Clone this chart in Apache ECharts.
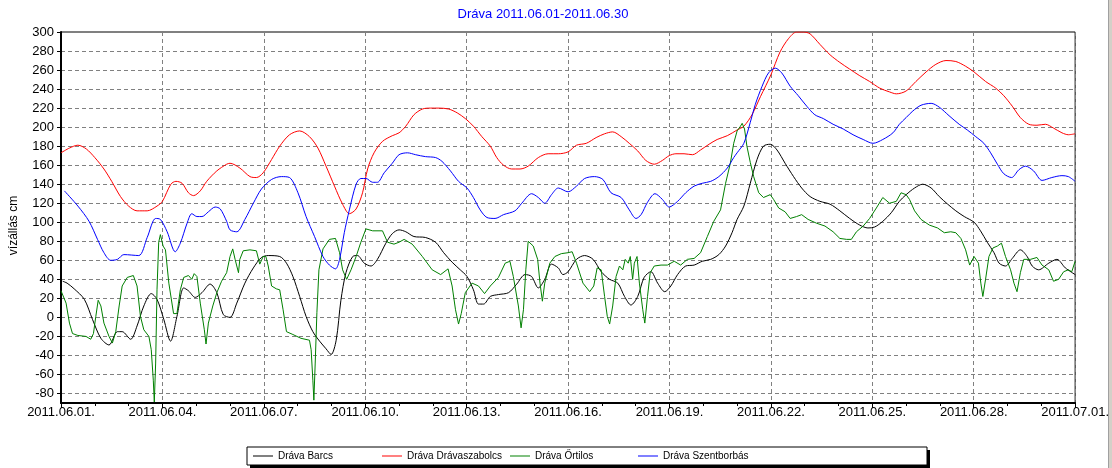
<!DOCTYPE html>
<html>
<head>
<meta charset="utf-8">
<script src="https://cdn.jsdelivr.net/npm/echarts@6/dist/echarts.min.js"></script>
<style>
  html, body { margin: 0; padding: 0; background: #fff; }
  #chart { width: 1112px; height: 468px; }
</style>
</head>
<body>
<div id="chart"></div>
<script>
// tick labels (x: one label every 3 days, day 0 = 2011.06.01.)
const xTickLabels = ['2011.06.01.', '2011.06.04.', '2011.06.07.', '2011.06.10.', '2011.06.13.', '2011.06.16.',
  '2011.06.19.', '2011.06.22.', '2011.06.25.', '2011.06.28.', '2011.07.01.'];
const yTicks = [-80, -60, -40, -20, 0, 20, 40, 60, 80, 100, 120, 140, 160, 180, 200, 220, 240, 260, 280, 300];

// water levels, [day since 06.01, cm]
const barcs = [[0.05,38],[0.18,36],[0.39,30],[0.69,19],[0.93,-2],[1.18,-22],[1.42,-29],[1.67,-15],[1.81,-15],[2.06,-23],[2.25,-9],[2.45,12],[2.67,25],[2.84,19],[3.04,-2],[3.24,-25],[3.43,1],[3.63,31],[3.77,28],[3.97,21],[4.17,26],[4.41,35],[4.61,26],[4.8,3],[5,0],[5.2,15],[5.44,36],[5.69,52],[5.93,63],[6.13,65],[6.47,64],[6.67,57],[6.86,43],[7.06,22],[7.25,1],[7.45,-15],[7.65,-25],[7.84,-33],[7.99,-39],[8.14,-24],[8.28,18],[8.43,47],[8.63,64],[8.77,65],[8.97,57],[9.17,54],[9.36,61],[9.61,78],[9.8,88],[10,92],[10.2,90],[10.44,85],[10.78,84],[11.08,79],[11.32,68],[11.57,58],[11.81,50],[12.01,43],[12.2,29],[12.35,14],[12.5,14],[12.7,22],[12.94,24],[13.24,26],[13.48,35],[13.73,45],[13.92,43],[14.12,31],[14.31,40],[14.51,56],[14.71,52],[14.85,45],[15,48],[15.25,61],[15.49,65],[15.74,61],[15.98,48],[16.23,40],[16.47,36],[16.67,22],[16.86,13],[17.06,22],[17.25,42],[17.45,48],[17.65,36],[17.86,27],[18.04,33],[18.24,45],[18.48,54],[18.73,55],[18.97,59],[19.22,61],[19.46,66],[19.66,75],[19.85,89],[20,103],[20.2,117],[20.39,141],[20.59,166],[20.78,180],[20.98,182],[21.18,176],[21.42,162],[21.67,148],[21.91,136],[22.16,127],[22.45,122],[22.75,119],[23.04,112],[23.33,104],[23.63,97],[23.87,94],[24.07,95],[24.31,101],[24.56,110],[24.8,122],[25,129],[25.25,136],[25.49,140],[25.74,136],[25.98,127],[26.23,119],[26.47,112],[26.72,106],[27.01,100],[27.2,91],[27.4,79],[27.6,68],[27.75,57],[27.94,54],[28.14,62],[28.38,71],[28.58,64],[28.73,54],[28.92,50],[29.22,57],[29.46,61],[29.71,52],[30,45]];

const dravaszabolcs = [[0,173],[0.25,178],[0.5,181],[0.75,177],[1,168],[1.27,156],[1.5,143],[1.76,127],[2,117],[2.25,112],[2.55,112],[2.84,117],[3,122],[3.25,140],[3.4,143],[3.58,141],[3.77,131],[3.92,128],[4.12,133],[4.31,143],[4.61,154],[4.9,161],[5,162],[5.29,157],[5.59,148],[5.78,147],[5.98,152],[6.23,166],[6.47,180],[6.76,192],[7.06,196],[7.35,190],[7.6,178],[7.84,159],[8.09,138],[8.33,119],[8.53,109],[8.73,114],[8.92,131],[9.07,156],[9.26,173],[9.51,185],[9.8,191],[10,194],[10.2,201],[10.44,213],[10.69,219],[10.93,220],[11.18,220],[11.47,219],[11.72,215],[11.96,209],[12.2,201],[12.45,190],[12.7,180],[12.89,168],[13.09,160],[13.33,156],[13.58,156],[13.82,159],[14.12,168],[14.41,172],[14.71,172],[15,174],[15.25,181],[15.54,183],[15.83,189],[16.08,193],[16.32,195],[16.57,190],[16.81,183],[17.06,175],[17.3,165],[17.55,161],[17.79,165],[17.99,170],[18.19,172],[18.43,172],[18.68,171],[18.92,176],[19.17,182],[19.41,187],[19.71,191],[20,197],[20.2,201],[20.44,213],[20.69,232],[21,255],[21.27,279],[21.52,293],[21.76,300],[21.96,300],[22.16,298],[22.45,287],[22.75,276],[23.04,268],[23.33,261],[23.63,254],[23.92,248],[24.22,241],[24.51,237],[24.71,235],[25,238],[25.29,248],[25.59,258],[25.88,266],[26.18,270],[26.47,269],[26.76,264],[27.01,258],[27.35,248],[27.65,241],[27.89,233],[28.14,222],[28.38,210],[28.63,203],[28.87,202],[29.12,203],[29.36,199],[29.61,194],[29.8,192],[30,193]];

const ortilos = [[0,28],[0.15,15],[0.25,-6],[0.34,-17],[0.5,-19],[0.74,-20],[0.88,-23],[0.96,-17],[1.03,1],[1.1,18],[1.18,12],[1.27,-6],[1.42,-20],[1.52,-27],[1.62,-15],[1.72,12],[1.81,33],[1.96,42],[2.14,44],[2.25,33],[2.35,1],[2.45,-13],[2.6,-20],[2.67,-34],[2.73,-66],[2.76,-89],[2.8,-48],[2.84,29],[2.89,79],[2.94,87],[3.02,75],[3.09,71],[3.19,36],[3.33,4],[3.43,4],[3.53,29],[3.63,42],[3.77,44],[3.87,40],[3.94,46],[4.02,43],[4.12,15],[4.24,-13],[4.29,-28],[4.36,-6],[4.49,12],[4.61,26],[4.75,38],[4.9,47],[5,64],[5.08,72],[5.15,61],[5.25,47],[5.29,61],[5.39,70],[5.59,71],[5.78,70],[5.88,56],[5.98,64],[6.06,64],[6.13,54],[6.23,33],[6.37,30],[6.47,29],[6.57,8],[6.67,-15],[6.86,-18],[7.1,-22],[7.35,-24],[7.4,-34],[7.45,-66],[7.48,-87],[7.52,-48],[7.57,5],[7.63,50],[7.75,72],[7.94,82],[8.12,83],[8.24,68],[8.33,50],[8.45,40],[8.58,50],[8.73,64],[8.87,79],[9.02,93],[9.22,91],[9.51,91],[9.66,79],[9.85,77],[10,79],[10.15,82],[10.39,77],[10.69,64],[10.98,50],[11.23,45],[11.45,51],[11.57,33],[11.67,8],[11.76,-7],[11.84,4],[11.96,26],[12.16,36],[12.35,33],[12.53,25],[12.7,33],[12.94,42],[13.14,57],[13.28,59],[13.38,43],[13.53,12],[13.61,-11],[13.68,8],[13.75,50],[13.82,80],[13.97,75],[14.1,61],[14.17,36],[14.24,17],[14.31,36],[14.46,57],[14.61,64],[14.8,67],[15,68],[15.12,69],[15.25,57],[15.44,36],[15.64,27],[15.76,33],[15.86,52],[15.98,50],[16.08,22],[16.16,1],[16.23,-7],[16.32,12],[16.42,43],[16.52,54],[16.62,50],[16.69,61],[16.78,57],[16.84,64],[16.91,40],[16.96,57],[17.04,64],[17.11,36],[17.21,8],[17.27,-6],[17.35,22],[17.43,47],[17.55,54],[17.75,55],[17.94,55],[18.14,59],[18.33,55],[18.53,61],[18.73,62],[18.92,68],[19.12,85],[19.31,101],[19.51,113],[19.66,141],[19.8,162],[19.9,183],[20,196],[20.1,201],[20.15,204],[20.22,198],[20.29,180],[20.39,163],[20.49,148],[20.64,131],[20.78,126],[20.98,129],[21.08,124],[21.23,115],[21.42,111],[21.57,104],[21.76,106],[21.91,108],[22.1,103],[22.35,99],[22.6,96],[22.84,90],[23.04,83],[23.24,82],[23.38,82],[23.53,90],[23.73,96],[23.92,104],[24.12,115],[24.31,126],[24.51,120],[24.71,122],[24.85,131],[25,129],[25.1,124],[25.25,112],[25.44,103],[25.69,97],[25.93,94],[26.13,89],[26.32,90],[26.47,89],[26.62,83],[26.76,71],[26.88,55],[27.01,64],[27.14,57],[27.21,36],[27.27,22],[27.35,40],[27.45,64],[27.57,73],[27.7,75],[27.82,78],[27.94,64],[28.09,50],[28.19,36],[28.28,27],[28.38,47],[28.48,61],[28.68,61],[28.87,63],[29.02,55],[29.22,50],[29.36,38],[29.51,40],[29.66,48],[29.8,50],[29.9,48],[30,59]];

const szentborbas = [[0.1,133],[0.5,117],[0.83,101],[1.08,82],[1.27,68],[1.47,60],[1.67,61],[1.86,66],[2.3,65],[2.55,84],[2.8,104],[2.94,103],[3.14,90],[3.38,69],[3.53,78],[3.73,99],[3.87,109],[4.02,106],[4.17,106],[4.36,111],[4.56,116],[4.71,114],[4.9,101],[5,92],[5.2,90],[5.44,103],[5.69,120],[5.93,135],[6.23,145],[6.52,148],[6.76,147],[7.01,131],[7.25,106],[7.5,85],[7.75,64],[7.94,55],[8.12,51],[8.24,61],[8.38,89],[8.53,113],[8.73,140],[8.87,146],[9.02,146],[9.22,142],[9.36,142],[9.56,152],[9.8,162],[10,171],[10.25,173],[10.49,171],[10.78,169],[11.08,168],[11.27,164],[11.52,154],[11.76,143],[12.01,136],[12.2,126],[12.4,113],[12.6,105],[12.84,104],[13.09,108],[13.43,112],[13.63,120],[13.92,130],[14.12,126],[14.31,120],[14.51,129],[14.71,136],[15,132],[15.25,138],[15.49,146],[15.78,148],[16.03,145],[16.27,131],[16.57,126],[16.81,113],[17.01,104],[17.16,108],[17.35,121],[17.57,130],[17.79,124],[17.99,116],[18.24,122],[18.48,131],[18.73,138],[18.97,141],[19.22,143],[19.46,148],[19.71,157],[19.9,168],[20,173],[20.2,183],[20.39,205],[20.54,224],[20.74,243],[20.93,257],[21.13,262],[21.32,257],[21.57,243],[21.81,233],[22.06,222],[22.3,213],[22.55,209],[22.84,203],[23.14,198],[23.43,192],[23.73,187],[24.02,183],[24.31,187],[24.61,194],[24.8,203],[25,210],[25.2,217],[25.44,223],[25.74,225],[25.98,221],[26.27,212],[26.57,203],[26.81,197],[27.06,190],[27.3,183],[27.5,173],[27.7,161],[27.89,151],[28.12,147],[28.33,155],[28.53,159],[28.77,154],[29.02,144],[29.31,147],[29.61,149],[29.8,148],[30,143]];

const seriesNames = ['Dráva Barcs', 'Dráva Drávaszabolcs', 'Dráva Őrtilos', 'Dráva Szentborbás'];
const seriesColors = ['#000000', '#ff0000', '#008000', '#0000ff'];

const font = '"Liberation Sans", Arial, sans-serif';
const gridLine = { show: true, lineStyle: { color: '#808080', width: 1, type: [4, 3] } };

function lineSeries(i, data, smooth) {
  return {
    name: seriesNames[i],
    type: 'line',
    data: data,
    symbol: 'none',
    smooth: smooth,
    color: seriesColors[i],
    lineStyle: { color: seriesColors[i], width: 1 },
    itemStyle: { color: seriesColors[i] }
  };
}

// one legend block per item, spaced like the original fixed-width slots
function legendItem(i, left) {
  return {
    left: left,
    top: 451,
    padding: 0,
    z: 10,
    selectedMode: false,
    itemWidth: 20,
    itemHeight: 1,
    data: [{
      name: seriesNames[i],
      icon: 'rect',
      itemStyle: { color: seriesColors[i], borderWidth: 0 },
      lineStyle: { color: seriesColors[i], width: 1 }
    }],
    textStyle: { color: '#000', fontSize: 10, fontFamily: font }
  };
}

const chart = echarts.init(document.getElementById('chart'));
chart.setOption({
  animation: false,
  backgroundColor: '#fff',
  title: {
    text: 'Dráva 2011.06.01-2011.06.30',
    left: 538,
    textAlign: 'center',
    top: 3,
    textStyle: { color: '#0000ff', fontSize: 13, fontWeight: 'normal', fontFamily: font }
  },
  grid: { left: 57, right: 35, top: 32, bottom: 65, show: true, borderColor: '#000', borderWidth: 1 },
  legend: [legendItem(0, 253), legendItem(1, 382), legendItem(2, 510), legendItem(3, 638)],
  xAxis: {
    type: 'value',
    min: 0,
    max: 30,
    interval: 3,
    axisLine: { onZero: false, lineStyle: { color: '#000', width: 2 } },
    axisTick: { length: 5, lineStyle: { color: '#000' } },
    minorTick: { show: true, splitNumber: 3, length: 3, lineStyle: { color: '#000' } },
    axisLabel: {
      color: '#000', fontSize: 13, fontFamily: font, margin: 3,
      formatter: function (v) { return xTickLabels[Math.round(v / 3)]; }
    },
    splitLine: gridLine
  },
  yAxis: {
    type: 'value',
    min: -90,
    max: 300,
    name: 'vízállás cm',
    nameLocation: 'middle',
    nameGap: 41,
    nameTextStyle: { color: '#000', fontSize: 12, fontFamily: font, padding: [0, 16, 0, 0] },
    axisLine: { show: true, lineStyle: { color: '#000', width: 2 } },
    axisTick: { show: true, length: 4, customValues: yTicks, lineStyle: { color: '#000' } },
    axisLabel: { customValues: yTicks, color: '#000', fontSize: 13, fontFamily: font, margin: 7 },
    splitLine: gridLine
  },
  graphic: [
    { type: 'rect', z: 0, shape: { x: 250, y: 450, width: 680, height: 18 }, style: { fill: '#000' } },
    { type: 'rect', z: 1, shape: { x: 247, y: 447, width: 680, height: 18 }, style: { fill: '#fff', stroke: '#000', lineWidth: 1 } },
    { type: 'rect', z: 1, shape: { x: 1108, y: 0, width: 1, height: 468 }, style: { fill: '#a0a0a0' } },
    { type: 'rect', z: 1, shape: { x: 1109, y: 0, width: 3, height: 468 }, style: { fill: '#d4d0c8' } }
  ],
  series: [
    lineSeries(0, barcs, 0.3),
    lineSeries(1, dravaszabolcs, 0.3),
    lineSeries(2, ortilos, false),
    lineSeries(3, szentborbas, 0.3)
  ]
});
</script>
</body>
</html>
